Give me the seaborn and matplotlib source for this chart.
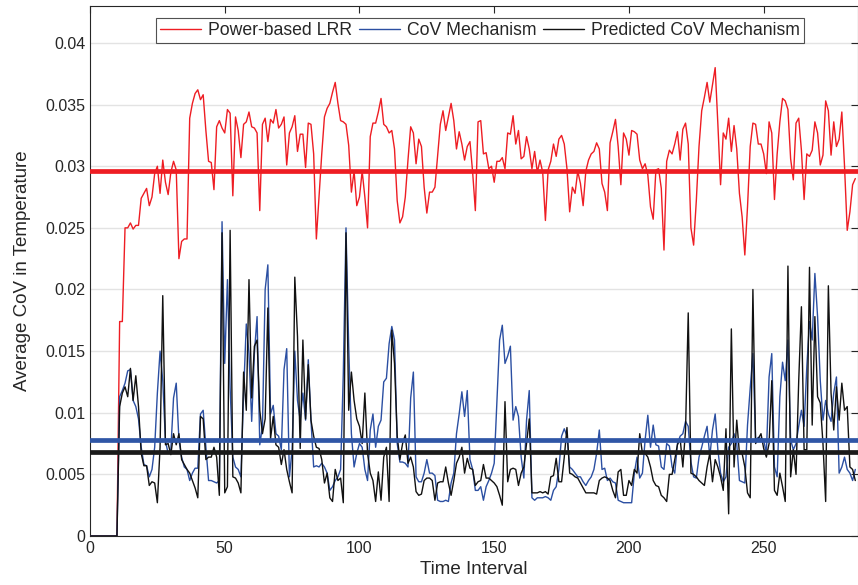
import numpy as np
import pandas as pd
import matplotlib
matplotlib.use("Agg")
import matplotlib.pyplot as plt
import seaborn as sns
from matplotlib.ticker import FuncFormatter, MultipleLocator

# ---- data ----
time_interval = list(range(285))

power_lrr = [0]*11 + [
 0.0174,0.0174,0.0250,0.0250,0.0254,0.0249,0.0252,0.0252,0.0274,0.0278,
 0.0282,0.0268,0.0275,0.0294,0.0300,0.0278,0.0305,0.0287,0.0277,0.0295,
 0.0304,0.0297,0.0225,0.0239,0.0241,0.0241,0.0339,0.0351,0.0359,0.0362,
 0.0354,0.0358,0.0329,0.0304,0.0303,0.0281,0.0332,0.0337,0.0331,0.0327,
 0.0346,0.0343,0.0276,0.0340,0.0329,0.0307,0.0334,0.0336,0.0344,0.0332,
 0.0331,0.0327,0.0264,0.0334,0.0339,0.0320,0.0338,0.0335,0.0346,0.0331,
 0.0334,0.0340,0.0301,0.0327,0.0332,0.0341,0.0312,0.0326,0.0326,0.0299,
 0.0335,0.0334,0.0310,0.0241,0.0275,0.0310,0.0340,0.0347,0.0351,0.0360,
 0.0368,0.0351,0.0337,0.0336,0.0334,0.0317,0.0279,0.0296,0.0268,0.0275,
 0.0296,0.0275,0.0250,0.0324,0.0335,0.0335,0.0344,0.0355,0.0334,0.0332,
 0.0327,0.0329,0.0314,0.0272,0.0254,0.0259,0.0275,0.0305,0.0332,0.0327,
 0.0302,0.0322,0.0316,0.0283,0.0262,0.0279,0.0279,0.0283,0.0309,0.0334,
 0.0345,0.0329,0.0340,0.0351,0.0337,0.0314,0.0328,0.0318,0.0305,0.0316,
 0.0320,0.0295,0.0264,0.0336,0.0337,0.0310,0.0311,0.0298,0.0300,0.0287,
 0.0304,0.0304,0.0307,0.0298,0.0327,0.0326,0.0341,0.0318,0.0329,0.0306,
 0.0308,0.0324,0.0314,0.0298,0.0312,0.0295,0.0305,0.0295,0.0256,0.0297,
 0.0304,0.0318,0.0308,0.0322,0.0325,0.0318,0.0298,0.0263,0.0283,0.0278,
 0.0296,0.0286,0.0268,0.0296,0.0305,0.0310,0.0312,0.0319,0.0314,0.0286,
 0.0279,0.0264,0.0319,0.0328,0.0338,0.0316,0.0285,0.0327,0.0322,0.0309,
 0.0329,0.0328,0.0326,0.0305,0.0298,0.0302,0.0293,0.0267,0.0257,0.0297,
 0.0298,0.0282,0.0232,0.0304,0.0313,0.0310,0.0318,0.0328,0.0305,0.0330,
 0.0335,0.0318,0.0250,0.0236,0.0272,0.0316,0.0345,0.0356,0.0368,0.0352,
 0.0366,0.0380,0.0334,0.0285,0.0327,0.0322,0.0339,0.0312,0.0333,0.0314,
 0.0278,0.0259,0.0228,0.0267,0.0316,0.0335,0.0334,0.0318,0.0318,0.0310,
 0.0294,0.0336,0.0327,0.0273,0.0310,0.0336,0.0355,0.0353,0.0346,0.0306,
 0.0289,0.0335,0.0339,0.0313,0.0273,0.0310,0.0308,0.0313,0.0336,0.0327,
 0.0301,0.0309,0.0353,0.0345,0.0309,0.0336,0.0316,0.0322,0.0344,0.0300,
 0.0248,0.0263,0.0285,0.0290]

cov_mech = [0]*11 + [
 0.0113,0.0118,0.0124,0.0134,0.0135,0.0110,0.0105,0.0095,0.0072,0.0058,
 0.0057,0.0048,0.0054,0.0072,0.0116,0.0150,0.0126,0.0077,0.0067,0.0070,
 0.0112,0.0124,0.0078,0.0064,0.0056,0.0054,0.0045,0.0051,0.0055,0.0055,
 0.0099,0.0102,0.0072,0.0045,0.0045,0.0044,0.0043,0.0045,0.0255,0.0140,
 0.0208,0.0120,0.0064,0.0056,0.0054,0.0048,0.0116,0.0172,0.0148,0.0093,
 0.0148,0.0178,0.0074,0.0089,0.0200,0.0220,0.0099,0.0106,0.0083,0.0081,
 0.0070,0.0135,0.0152,0.0048,0.0070,0.0150,0.0110,0.0094,0.0116,0.0094,
 0.0143,0.0094,0.0056,0.0057,0.0056,0.0059,0.0056,0.0051,0.0037,0.0040,
 0.0045,0.0048,0.0054,0.0132,0.0250,0.0154,0.0083,0.0056,0.0067,0.0075,
 0.0072,0.0054,0.0045,0.0086,0.0099,0.0072,0.0089,0.0094,0.0125,0.0128,
 0.0156,0.0170,0.0159,0.0075,0.0060,0.0060,0.0059,0.0056,0.0112,0.0133,
 0.0048,0.0044,0.0044,0.0051,0.0062,0.0051,0.0051,0.0049,0.0029,0.0028,
 0.0028,0.0029,0.0028,0.0043,0.0051,0.0083,0.0099,0.0117,0.0097,0.0118,
 0.0062,0.0054,0.0037,0.0037,0.0040,0.0029,0.0040,0.0045,0.0051,0.0059,
 0.0110,0.0159,0.0171,0.0140,0.0146,0.0154,0.0094,0.0105,0.0097,0.0064,
 0.0047,0.0094,0.0118,0.0031,0.0029,0.0031,0.0031,0.0031,0.0032,0.0031,
 0.0029,0.0037,0.0040,0.0054,0.0081,0.0087,0.0081,0.0056,0.0054,0.0051,
 0.0048,0.0048,0.0044,0.0041,0.0045,0.0048,0.0054,0.0067,0.0086,0.0054,
 0.0055,0.0045,0.0047,0.0044,0.0043,0.0029,0.0028,0.0027,0.0027,0.0027,
 0.0027,0.0051,0.0064,0.0047,0.0051,0.0078,0.0098,0.0072,0.0090,0.0074,
 0.0073,0.0056,0.0054,0.0075,0.0073,0.0056,0.0051,0.0075,0.0081,0.0083,
 0.0093,0.0089,0.0060,0.0048,0.0047,0.0064,0.0072,0.0081,0.0089,0.0064,
 0.0086,0.0099,0.0070,0.0051,0.0044,0.0048,0.0072,0.0075,0.0083,0.0075,
 0.0045,0.0044,0.0043,0.0090,0.0120,0.0148,0.0078,0.0080,0.0079,0.0078,
 0.0067,0.0129,0.0148,0.0056,0.0048,0.0113,0.0141,0.0126,0.0159,0.0078,
 0.0070,0.0075,0.0089,0.0102,0.0089,0.0137,0.0174,0.0159,0.0213,0.0178,
 0.0126,0.0094,0.0110,0.0099,0.0093,0.0116,0.0129,0.0051,0.0056,0.0064,
 0.0054,0.0051,0.0045,0.0054]

pred_cov_mech = [0]*11 + [
 0.0105,0.0116,0.0121,0.0113,0.0136,0.0110,0.0130,0.0105,0.0067,0.0057,
 0.0057,0.0041,0.0044,0.0043,0.0027,0.0072,0.0195,0.0074,0.0075,0.0066,
 0.0083,0.0074,0.0083,0.0062,0.0058,0.0054,0.0051,0.0045,0.0039,0.0031,
 0.0097,0.0095,0.0062,0.0064,0.0064,0.0072,0.0064,0.0033,0.0246,0.0035,
 0.0040,0.0248,0.0048,0.0047,0.0043,0.0035,0.0133,0.0102,0.0208,0.0112,
 0.0154,0.0159,0.0102,0.0083,0.0095,0.0185,0.0079,0.0097,0.0074,0.0072,
 0.0058,0.0070,0.0054,0.0044,0.0035,0.0210,0.0162,0.0071,0.0159,0.0095,
 0.0139,0.0094,0.0081,0.0072,0.0071,0.0062,0.0043,0.0051,0.0031,0.0028,
 0.0054,0.0045,0.0047,0.0027,0.0246,0.0102,0.0133,0.0110,0.0095,0.0089,
 0.0075,0.0116,0.0067,0.0051,0.0045,0.0028,0.0052,0.0029,0.0064,0.0072,
 0.0028,0.0167,0.0140,0.0081,0.0062,0.0075,0.0082,0.0059,0.0064,0.0056,
 0.0036,0.0033,0.0034,0.0045,0.0047,0.0047,0.0045,0.0029,0.0043,0.0044,
 0.0044,0.0056,0.0043,0.0033,0.0045,0.0059,0.0064,0.0072,0.0051,0.0063,
 0.0055,0.0054,0.0041,0.0044,0.0045,0.0058,0.0047,0.0047,0.0045,0.0043,
 0.0040,0.0033,0.0025,0.0109,0.0044,0.0054,0.0055,0.0054,0.0041,0.0051,
 0.0056,0.0075,0.0095,0.0035,0.0035,0.0035,0.0036,0.0035,0.0036,0.0034,
 0.0048,0.0049,0.0063,0.0044,0.0044,0.0064,0.0088,0.0051,0.0050,0.0048,
 0.0047,0.0043,0.0039,0.0035,0.0035,0.0035,0.0035,0.0034,0.0045,0.0047,
 0.0048,0.0047,0.0045,0.0037,0.0031,0.0052,0.0054,0.0033,0.0033,0.0045,
 0.0041,0.0054,0.0051,0.0083,0.0067,0.0067,0.0064,0.0056,0.0045,0.0041,
 0.0040,0.0033,0.0031,0.0028,0.0050,0.0050,0.0062,0.0074,0.0079,0.0056,
 0.0086,0.0181,0.0051,0.0050,0.0048,0.0045,0.0043,0.0041,0.0056,0.0067,
 0.0044,0.0062,0.0056,0.0048,0.0037,0.0087,0.0018,0.0168,0.0056,0.0094,
 0.0067,0.0067,0.0056,0.0035,0.0031,0.0200,0.0075,0.0079,0.0083,0.0071,
 0.0064,0.0075,0.0126,0.0037,0.0033,0.0051,0.0040,0.0028,0.0219,0.0048,
 0.0070,0.0050,0.0126,0.0186,0.0070,0.0070,0.0218,0.0090,0.0178,0.0113,
 0.0108,0.0075,0.0028,0.0203,0.0116,0.0086,0.0121,0.0094,0.0124,0.0102,
 0.0105,0.0056,0.0054,0.0045]

mean_power_lrr = 0.0296
mean_cov_mech = 0.00778
mean_pred_cov_mech = 0.00678

series_names = ["Power-based LRR", "CoV Mechanism", "Predicted CoV Mechanism"]
y_ticks = [0, 0.005, 0.01, 0.015, 0.02, 0.025, 0.03, 0.035, 0.04]
x_ticks = [0, 50, 100, 150, 200, 250]

n = len(time_interval)
power_lrr = power_lrr[:n] + [power_lrr[-1]] * max(0, n - len(power_lrr))
cov_mech = cov_mech[:n] + [cov_mech[-1]] * max(0, n - len(cov_mech))
pred_cov_mech = pred_cov_mech[:n] + [pred_cov_mech[-1]] * max(0, n - len(pred_cov_mech))

df = pd.DataFrame({
    "Time Interval": time_interval * 3,
    "value": power_lrr + cov_mech + pred_cov_mech,
    "series": [series_names[0]] * n + [series_names[1]] * n + [series_names[2]] * n,
})

sns.set_theme(style="white")
plt.rcParams["font.family"] = ["Liberation Sans", "DejaVu Sans"]

red = "#EE1D23"
blue = "#2B4FA2"
black = "#111111"
palette = {series_names[0]: red, series_names[1]: blue, series_names[2]: black}

fig = plt.figure(figsize=(8.58, 5.85), dpi=100)
ax = fig.add_axes([90/858, 49/585, 768/858, 530/585])

sns.lineplot(data=df, x="Time Interval", y="value", hue="series", palette=palette,
             hue_order=series_names, linewidth=1.0, ax=ax, zorder=3)

ax.axhline(mean_power_lrr, color=red, lw=3.4, zorder=4)
ax.axhline(mean_cov_mech, color="#2F56A6", lw=3.4, zorder=4)
ax.axhline(mean_pred_cov_mech, color="#1a1a1a", lw=3.4, zorder=4)

ax.set_xlim(0, 285)
ax.set_ylim(0, 0.043)
ax.set_xticks(x_ticks)
ax.set_yticks(y_ticks)
ax.yaxis.set_major_formatter(FuncFormatter(lambda v, p: "0" if v == 0 else f"{v:g}"))
ax.grid(axis="y", color="#e3e3e3", lw=1.0, zorder=0)
ax.grid(axis="x", visible=False)
ax.set_axisbelow(True)
for s in ax.spines.values():
    s.set_color("#262626")
    s.set_linewidth(0.8)
ax.tick_params(axis="both", direction="in", length=5, width=0.8, color="#262626",
               labelsize=11.5, labelcolor="#262626", top=True, right=True)
ax.set_xlabel("Time Interval", fontsize=13.5, color="#262626", labelpad=4)
ax.set_ylabel("Average CoV in Temperature", fontsize=13.5, color="#262626", labelpad=10)

leg = ax.legend(loc="upper center", bbox_to_anchor=(0.508, 0.978), ncol=3,
                fontsize=12.7, frameon=True, fancybox=False, edgecolor="#262626",
                handlelength=2.3, handletextpad=0.4, columnspacing=0.4,
                borderpad=0.25, borderaxespad=0)
leg.get_frame().set_linewidth(0.8)
for line in leg.get_lines():
    line.set_linewidth(1.0)

fig.savefig("out.png", dpi=100)
